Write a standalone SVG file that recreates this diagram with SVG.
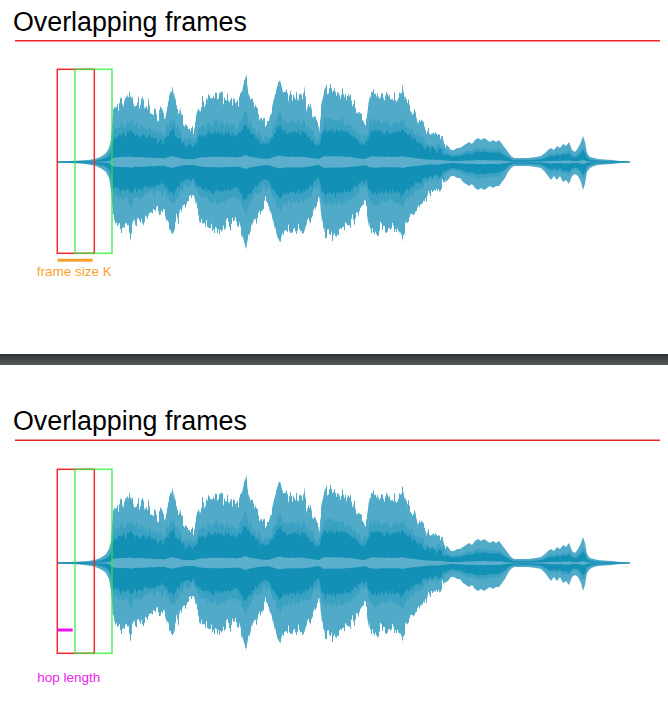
<svg xmlns="http://www.w3.org/2000/svg" xmlns:xlink="http://www.w3.org/1999/xlink" width="668" height="713" viewBox="0 0 668 713">
<style>
.title{font-family:"Liberation Sans",Arial,sans-serif;font-size:26.8px;fill:#000}
.rule{stroke:#e8262c;stroke-width:1.5}
.fr-red{fill:none;stroke:#f22a2a;stroke-width:1.5}
.fr-green{fill:none;stroke:#2aee3a;stroke-width:1.5;stroke-opacity:0.8}
.lbl{font-family:"Liberation Sans",Arial,sans-serif;font-size:13.5px}
.w-out{fill:#52aac9}
.w-in2{fill:#2a9abd;opacity:0.55}
.w-in{fill:#1290b6}
.w-strip{fill:#5cafcc}
.w-zero{stroke:#1a8cb2;stroke-width:1.2}
</style>
<defs>
<linearGradient id="sep" x1="0" y1="0" x2="0" y2="1">
<stop offset="0" stop-color="#2e3235"/>
<stop offset="1" stop-color="#56595c"/>
</linearGradient>
<filter id="jag" x="-5%" y="-20%" width="110%" height="140%" color-interpolation-filters="sRGB">
<feTurbulence type="fractalNoise" baseFrequency="0.5 0.012" numOctaves="2" seed="7" result="n"/>
<feColorMatrix in="n" type="matrix" values="0 0 0 0 0.5  1.7 0 0 0 -0.35  0 0 0 0 0  0 0 0 0 1" result="m"/>
<feDisplacementMap in="SourceGraphic" in2="m" scale="16" xChannelSelector="R" yChannelSelector="G"/>
</filter>
<filter id="jag2" x="-5%" y="-20%" width="110%" height="140%" color-interpolation-filters="sRGB">
<feTurbulence type="fractalNoise" baseFrequency="0.5 0.012" numOctaves="2" seed="5" result="n"/>
<feColorMatrix in="n" type="matrix" values="0 0 0 0 0.5  1.7 0 0 0 -0.35  0 0 0 0 0  0 0 0 0 1" result="m"/>
<feDisplacementMap in="SourceGraphic" in2="m" scale="14" xChannelSelector="R" yChannelSelector="G"/>
</filter>
<filter id="jag3" x="-5%" y="-20%" width="110%" height="140%" color-interpolation-filters="sRGB">
<feTurbulence type="fractalNoise" baseFrequency="0.6 0.012" numOctaves="2" seed="11" result="n"/>
<feColorMatrix in="n" type="matrix" values="0 0 0 0 0.5  1.7 0 0 0 -0.35  0 0 0 0 0  0 0 0 0 1" result="m"/>
<feDisplacementMap in="SourceGraphic" in2="m" scale="14" xChannelSelector="R" yChannelSelector="G"/>
</filter>
<clipPath id="cLoud" clipPathUnits="userSpaceOnUse"><rect x="112" y="-1000" width="334" height="3000"/></clipPath>
<clipPath id="cQuiet" clipPathUnits="userSpaceOnUse"><path d="M0,-1000H112V2000H0Z M446,-1000H700V2000H446Z"/></clipPath>
<path id="env" d="M57,161.4 L70,161 L80,160.5 L88,160 L94,159 L98,158 L102,156 L106,153 L109,148 L111,140 L113,112 L116,106 L119,102 L122,96 L125,104 L128,96 L131,92 L134,102 L137,100 L140,104 L143,98 L146,108 L149,104 L152,112 L155,108 L158,116 L161,112 L164,118 L167,106 L170,96 L173,88 L176,104 L179,106 L182,120 L185,124 L188,126 L191,126 L194,127 L197,116 L200,106 L203,102 L206,104 L209,96 L212,100 L215,94 L218,98 L221,92 L224,98 L227,96 L230,102 L233,100 L236,106 L239,100 L242,92 L244,82 L246,76 L248,90 L251,100 L254,104 L257,110 L260,116 L263,120 L266,122 L269,122 L272,110 L275,96 L278,84 L280,80 L283,92 L286,94 L289,98 L292,94 L295,98 L298,94 L301,100 L304,92 L307,106 L310,108 L313,116 L316,122 L319,126 L322,104 L325,88 L328,92 L331,88 L334,94 L337,90 L340,94 L343,92 L346,98 L349,96 L352,104 L355,108 L358,114 L361,120 L364,124 L367,116 L370,96 L373,90 L376,92 L379,96 L382,94 L385,98 L388,94 L391,100 L394,96 L397,98 L400,94 L403,90 L406,100 L409,104 L412,108 L415,112 L418,118 L421,122 L424,128 L427,132 L430,134 L433,132 L436,136 L439,134 L442,138 L445,144 L448,146 L451,150 L454,150 L457,148 L460,148 L463,146 L466,144 L469,142 L472,144 L475,140 L478,138 L481,140 L484,138 L487,140 L490,142 L493,140 L496,142 L499,140 L502,144 L505,148 L508,152 L511,156 L514,158 L520,158 L528,158 L536,157 L541,156 L545,153 L548,150 L551,148 L554,150 L557,146 L560,148 L563,144 L566,146 L569,142 L572,150 L575,152 L578,148 L581,142 L583,136 L585,142 L587,153 L590,157 L594,158 L598,159 L604,159.5 L612,160 L620,161 L630,161.7 L630,162.3 L620,163 L612,164 L604,164.5 L598,165 L594,166 L590,168 L587,172 L585,184 L583,190 L581,182 L578,176 L575,174 L572,176 L569,184 L566,180 L563,182 L560,176 L557,180 L554,176 L551,180 L548,176 L545,172 L541,168 L536,167 L528,166 L520,166 L514,166 L511,168 L508,172 L505,178 L502,182 L499,186 L496,186 L493,188 L490,186 L487,188 L484,190 L481,188 L478,190 L475,188 L472,184 L469,186 L466,184 L463,182 L460,178 L457,178 L454,176 L451,176 L448,180 L445,182 L442,188 L439,192 L436,192 L433,194 L430,194 L427,196 L424,200 L421,206 L418,210 L415,212 L412,218 L409,222 L406,226 L403,236 L400,232 L397,228 L394,228 L391,226 L388,230 L385,228 L382,228 L379,230 L376,234 L373,232 L370,228 L367,208 L364,202 L361,206 L358,214 L355,218 L352,222 L349,226 L346,228 L343,230 L340,232 L337,234 L334,232 L331,234 L328,232 L325,236 L322,224 L319,198 L316,202 L313,212 L310,218 L307,220 L304,228 L301,228 L298,230 L295,228 L292,230 L289,228 L286,232 L283,234 L280,242 L278,238 L275,228 L272,216 L269,204 L266,202 L263,206 L260,210 L257,216 L254,220 L251,228 L248,236 L246,248 L244,244 L242,234 L239,222 L236,220 L233,220 L230,224 L227,224 L224,226 L221,230 L218,228 L215,228 L212,228 L209,226 L206,224 L203,222 L200,218 L197,210 L194,199 L191,200 L188,200 L185,202 L182,206 L179,216 L176,222 L173,234 L170,228 L167,220 L164,210 L161,212 L158,210 L155,216 L152,214 L149,216 L146,218 L143,224 L140,220 L137,222 L134,224 L131,234 L128,226 L125,222 L122,228 L119,224 L116,222 L113,214 L111,190 L109,178 L106,172 L102,169 L98,167 L94,165.5 L88,164.5 L80,163.5 L70,163 L57,162.6 Z"/>
<g id="wave">
<use xlink:href="#env" href="#env" class="w-out" filter="url(#jag)" clip-path="url(#cLoud)"/>
<use xlink:href="#env" href="#env" class="w-out" clip-path="url(#cQuiet)"/>
<use xlink:href="#env" href="#env" class="w-in2" transform="matrix(1 0 0 0.6 0 64.8)" filter="url(#jag2)" clip-path="url(#cLoud)"/>
<use xlink:href="#env" href="#env" class="w-in2" transform="matrix(1 0 0 0.6 0 64.8)" clip-path="url(#cQuiet)"/>
<use xlink:href="#env" href="#env" class="w-in" transform="matrix(1 0 0 0.45 0 89.1)" filter="url(#jag3)" clip-path="url(#cLoud)"/>
<use xlink:href="#env" href="#env" class="w-in" transform="matrix(1 0 0 0.45 0 89.1)" clip-path="url(#cQuiet)"/>
<line x1="57" y1="162" x2="630" y2="162" class="w-zero"/>
<use xlink:href="#env" href="#env" class="w-strip" transform="matrix(1 0 0 0.08 0 149.04)"/>
</g>
</defs>
<rect width="668" height="713" fill="#fff"/>

<g id="slide1">
<text class="title" x="13" y="30.5">Overlapping frames</text>
<line class="rule" x1="15" y1="40.8" x2="660" y2="40.8"/>
<use id="waveform1" xlink:href="#wave" href="#wave"/>
<g id="frames1">
<rect class="fr-red" x="57.3" y="69.3" width="37" height="184"/>
<rect class="fr-green" x="75" y="69.3" width="37" height="184"/>
</g>
<line x1="57.5" y1="260.3" x2="92.7" y2="260.3" stroke="#f7a030" stroke-width="3"/>
<text class="lbl" x="36.7" y="275.7" fill="#f8a232">frame size K</text>
</g>

<rect id="separator" x="0" y="354" width="668" height="11" fill="url(#sep)"/>

<g id="slide2">
<text class="title" x="13" y="430.3">Overlapping frames</text>
<line class="rule" x1="15" y1="440.3" x2="660" y2="440.3"/>
<use id="waveform2" xlink:href="#wave" href="#wave" y="401"/>
<g id="frames2">
<rect class="fr-red" x="57.3" y="469.3" width="37" height="184"/>
<rect class="fr-green" x="75" y="469.3" width="37" height="184"/>
</g>
<line x1="57.5" y1="630" x2="72.7" y2="630" stroke="#ee10ee" stroke-width="3"/>
<text class="lbl" x="37.3" y="682" fill="#ee22ee">hop length</text>
</g>
</svg>
